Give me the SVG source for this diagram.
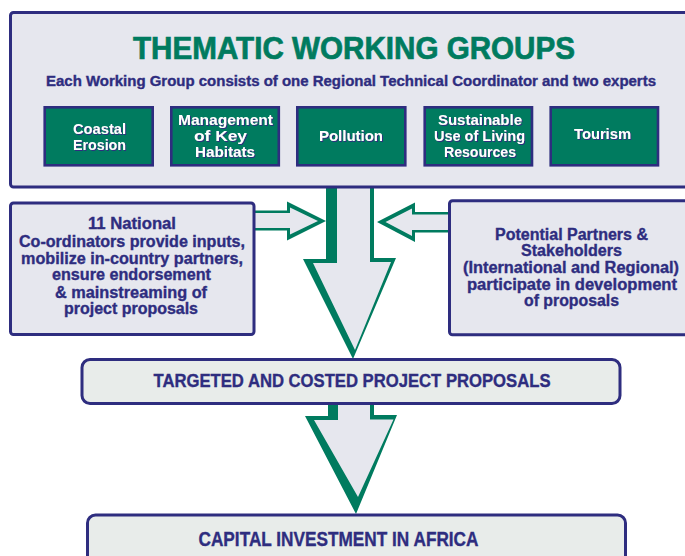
<svg xmlns="http://www.w3.org/2000/svg" width="685" height="556" viewBox="0 0 685 556">
<defs>
<filter id="sh" x="-10%" y="-20%" width="130%" height="150%">
<feDropShadow dx="1" dy="1" stdDeviation="0" flood-color="#2e2d7f" flood-opacity="1"/>
</filter>
</defs>
<style>
text{font-family:"Liberation Sans",Arial,sans-serif;font-weight:bold;text-anchor:middle}
.panel{fill:#e6e7ee;stroke:#2e2d7f;stroke-width:3}
.out{fill:#e8ecea;stroke:#2e2d7f;stroke-width:3}
.wg{fill:#007b5f;stroke:#2e2d7f;stroke-width:2.6}
.wgt{fill:#ffffff;font-size:15px;filter:url(#sh)}
.nv{fill:#2e2d7f}
.nvt{fill:#2e2d7f;stroke:#2e2d7f;stroke-width:0.35}
.ttl{fill:#007b5f;stroke:#007b5f;stroke-width:0.7}
.grn{fill:#007b5f}
.lt{fill:#e6e7ee}
</style>
<rect width="685" height="556" fill="#ffffff"/>
<g id="connectors">
<g id="arrow-main-1">
<path class="grn" d="M326,180 H374 V258 H396 L353,359 L303,259 H326 Z"/>
<path class="lt" d="M337,180 H370 V262 H391 L355,350 L313,263 H337 Z"/>
</g>
<g id="arrow-left">
<path class="grn" d="M250,210.5 H287 V201.5 L326,221 L287,240.5 V230.5 H250 Z"/>
<path class="lt" d="M250,213 H290 V207.5 L318,221 L290,234.5 V228 H250 Z"/>
</g>
<g id="arrow-right">
<path class="grn" d="M455,212 H415 V202.5 L377,222 L415,242 V232.5 H455 Z"/>
<path class="lt" d="M455,214.5 H412 V208.5 L385.5,222 L412,236 V230 H455 Z"/>
</g>
<g id="arrow-main-2">
<path class="grn" d="M328,398 H374 V415 H397 L356,514 L305,416 H328 Z"/>
<path class="lt" d="M338,398 H370 V419.5 H393.5 L358,497 L314,420 H338 Z"/>
</g>
</g>
<g id="thematic-working-groups">
<rect class="panel" x="10.5" y="12.5" width="690" height="174.5" rx="3"/>
<text x="354" y="59" font-size="31" class="ttl" textLength="442" lengthAdjust="spacingAndGlyphs">THEMATIC WORKING GROUPS</text>
<text x="351" y="86" font-size="14" class="nvt" textLength="610" lengthAdjust="spacingAndGlyphs">Each Working Group consists of one Regional Technical Coordinator and two experts</text>
</g>
<g id="wg-coastal">
<rect class="wg" x="44.7" y="107.3" width="108" height="58"/>
<text class="wgt" x="99.5" y="134" textLength="53" lengthAdjust="spacingAndGlyphs">Coastal</text>
<text class="wgt" x="99.5" y="150" textLength="53" lengthAdjust="spacingAndGlyphs">Erosion</text>
</g>
<g id="wg-habitats">
<rect class="wg" x="171.3" y="107.3" width="107.5" height="58"/>
<text class="wgt" x="225.5" y="125" textLength="95" lengthAdjust="spacingAndGlyphs">Management</text>
<text class="wgt" x="220.5" y="141" textLength="53" lengthAdjust="spacingAndGlyphs">of Key</text>
<text class="wgt" x="225" y="157" textLength="60" lengthAdjust="spacingAndGlyphs">Habitats</text>
</g>
<g id="wg-pollution">
<rect class="wg" x="297.3" y="107.3" width="108" height="58"/>
<text class="wgt" x="351" y="141" textLength="64" lengthAdjust="spacingAndGlyphs">Pollution</text>
</g>
<g id="wg-living-resources">
<rect class="wg" x="424.7" y="107.3" width="107.3" height="58"/>
<text class="wgt" x="480" y="125" textLength="84" lengthAdjust="spacingAndGlyphs">Sustainable</text>
<text class="wgt" x="479.5" y="141" textLength="91" lengthAdjust="spacingAndGlyphs">Use of Living</text>
<text class="wgt" x="480" y="157" textLength="72" lengthAdjust="spacingAndGlyphs">Resources</text>
</g>
<g id="wg-tourism">
<rect class="wg" x="550.7" y="107.3" width="107.3" height="58"/>
<text class="wgt" x="602.5" y="139" textLength="57" lengthAdjust="spacingAndGlyphs">Tourism</text>
</g>
<g id="national-coordinators">
<rect class="panel" x="10.5" y="203" width="243.5" height="131.5" rx="3"/>
<g class="nvt" font-size="16">
<text x="132" y="229" textLength="88" lengthAdjust="spacingAndGlyphs">11 National</text>
<text x="132" y="247" textLength="226" lengthAdjust="spacingAndGlyphs">Co-ordinators provide inputs,</text>
<text x="132" y="264" textLength="222" lengthAdjust="spacingAndGlyphs">mobilize in-country partners,</text>
<text x="131.5" y="280" textLength="159" lengthAdjust="spacingAndGlyphs">ensure endorsement</text>
<text x="131" y="298" textLength="152" lengthAdjust="spacingAndGlyphs">&amp; mainstreaming of</text>
<text x="131" y="314" textLength="134" lengthAdjust="spacingAndGlyphs">project proposals</text>
</g>
</g>
<g id="partners-stakeholders">
<rect class="panel" x="449.5" y="200.7" width="250" height="134" rx="3"/>
<g class="nvt" font-size="16">
<text x="571.5" y="240" textLength="153" lengthAdjust="spacingAndGlyphs">Potential Partners &amp;</text>
<text x="571.5" y="256" textLength="101" lengthAdjust="spacingAndGlyphs">Stakeholders</text>
<text x="571" y="273" textLength="216" lengthAdjust="spacingAndGlyphs">(International and Regional)</text>
<text x="572" y="290" textLength="210" lengthAdjust="spacingAndGlyphs">participate in development</text>
<text x="571.5" y="306" textLength="95" lengthAdjust="spacingAndGlyphs">of proposals</text>
</g>
</g>
<g id="project-proposals">
<rect class="out" x="82" y="359.5" width="538" height="44" rx="8"/>
<text x="352" y="386.5" font-size="18" class="nvt" textLength="397" lengthAdjust="spacingAndGlyphs">TARGETED AND COSTED PROJECT PROPOSALS</text>
</g>
<g id="capital-investment">
<rect class="out" x="87.5" y="515" width="538" height="60" rx="8"/>
<text x="338.5" y="546" font-size="19.5" class="nvt" textLength="280" lengthAdjust="spacingAndGlyphs">CAPITAL INVESTMENT IN AFRICA</text>
</g>
</svg>
